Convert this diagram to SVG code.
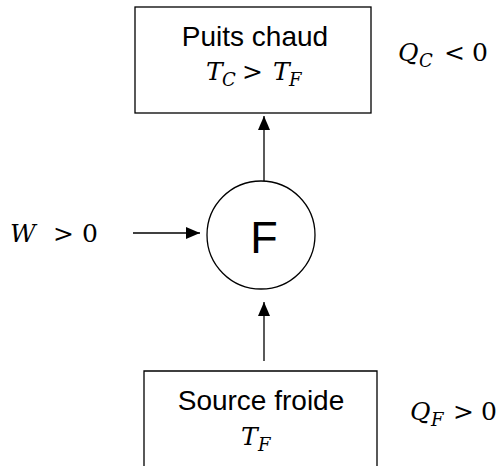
<svg xmlns="http://www.w3.org/2000/svg" width="498" height="466" viewBox="0 0 498 466">
<style>
.box{fill:#fff;stroke:#000;stroke-width:1.3}
.lbl{font-family:"Liberation Sans",Arial,sans-serif;font-size:28px;fill:#000;text-anchor:middle}
.m{font-family:"DejaVu Serif","Liberation Serif",serif;font-style:italic;font-size:25px;fill:#000}
.mu{font-style:normal}
.sub{font-size:18px}
.ln{stroke:#000;stroke-width:1.3;fill:none}
</style>
<defs>
<marker id="ah" viewBox="0 0 14 12" refX="14" refY="6" markerWidth="14" markerHeight="12" markerUnits="userSpaceOnUse" orient="auto">
<path d="M0,0 L14,6 L0,12 z" fill="#000"/>
</marker>
</defs>
<g id="puits">
<rect class="box" x="135" y="7" width="236" height="106"/>
<text class="lbl" x="255" y="46">Puits chaud</text>
<text class="m" y="80"><tspan x="206">T</tspan><tspan class="sub" x="222" y="86">C</tspan><tspan class="mu" x="242" y="80">&gt;</tspan><tspan x="273" y="80">T</tspan><tspan class="sub" x="289" y="86">F</tspan></text>
</g>
<g id="moteur">
<circle class="box" cx="261" cy="235" r="54"/>
<text x="264" y="253" font-family="Liberation Sans,Arial,sans-serif" font-size="45" text-anchor="middle">F</text>
</g>
<g id="source">
<path class="ln" d="M144,466 V371 H377 V466"/>
<text class="lbl" x="261" y="410">Source froide</text>
<text class="m" y="445"><tspan x="241">T</tspan><tspan class="sub" x="258" y="451">F</tspan></text>
</g>
<g id="labels">
<text class="m" y="61"><tspan x="398">Q</tspan><tspan class="sub" x="419" y="67">C</tspan><tspan class="mu" x="444" y="61">&lt;</tspan><tspan class="mu" x="472" y="61">0</tspan></text>
<text class="m" y="242"><tspan x="10">W</tspan><tspan class="mu" x="53">&gt;</tspan><tspan class="mu" x="82">0</tspan></text>
<text class="m" y="420"><tspan x="410">Q</tspan><tspan class="sub" x="431" y="426">F</tspan><tspan class="mu" x="453" y="420">&gt;</tspan><tspan class="mu" x="481" y="420">0</tspan></text>
</g>
<g id="connectors">
<line class="ln" x1="264" y1="181" x2="264" y2="116" marker-end="url(#ah)"/>
<line class="ln" x1="133" y1="233" x2="200" y2="233" marker-end="url(#ah)"/>
<line class="ln" x1="264" y1="361" x2="264" y2="302" marker-end="url(#ah)"/>
</g>
</svg>
